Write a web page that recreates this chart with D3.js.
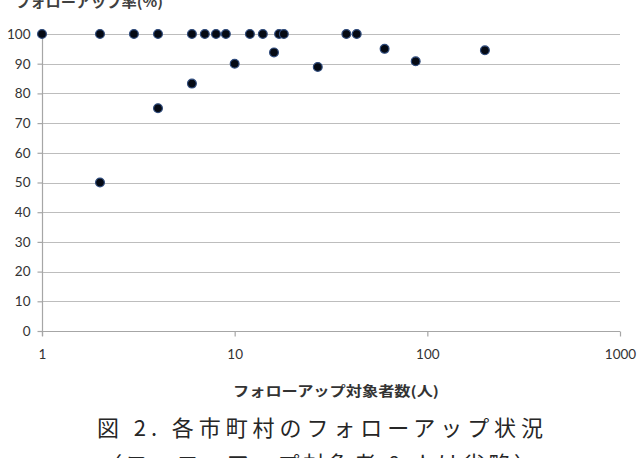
<!DOCTYPE html>
<html><head><meta charset="utf-8">
<script src="https://cdn.jsdelivr.net/npm/d3@7"></script>
<style>
html,body{margin:0;padding:0;background:#fff;}
svg{display:block;}
</style></head>
<body>
<script>
// Data: follow-up target counts (people) and follow-up rates (%)
const targetCounts = [1, 2, 2, 3, 4, 4, 6, 6, 7, 8, 9, 10, 12, 14, 16, 17, 18, 27, 38, 43, 60, 87, 199];
const followRates  = [100, 100, 50, 100, 100, 75, 100, 83.3, 100, 100, 100, 90, 100, 100, 93.8, 100, 100, 88.9, 100, 100, 95, 90.8, 94.5];
const xTicks = [1, 10, 100, 1000];
const yTicks = [0, 10, 20, 30, 40, 50, 60, 70, 80, 90, 100];
const yTitle = "フォローアップ率(%)";
const xTitle = "フォローアップ対象者数(人)";
const caption1 = "図 2.  各市町村のフォローアップ状況";
const caption2 = "（フォローアップ対象者 0 人は省略）";

const W = 639, H = 458;
const mLeft = 42, mRight = 620, mTop = 34, mBottom = 331;
const svg = d3.select("body").append("svg").attr("width", W).attr("height", H);

const x = d3.scaleLog().domain([1, 1000]).range([mLeft, mRight]);
const y = d3.scaleLinear().domain([0, 100]).range([mBottom, mTop]);

const numFont = "Lato, 'Open Sans', sans-serif";
const jpFont = "'Noto Sans CJK JP', sans-serif";

// gridlines
svg.append("g").selectAll("line").data(yTicks.filter(d => d > 0)).join("line")
  .attr("x1", mLeft).attr("x2", mRight)
  .attr("y1", d => Math.round(y(d)) + 0.5).attr("y2", d => Math.round(y(d)) + 0.5)
  .attr("stroke", "#bdbdbd").attr("stroke-width", 1.2);

// y axis
const yAxis = svg.append("g").attr("transform", `translate(${mLeft + 0.5},0)`)
  .call(d3.axisLeft(y).tickValues(yTicks).tickSize(5).tickPadding(7).tickFormat(d3.format("d")));
yAxis.select(".domain").attr("stroke", "#a6a6a6").attr("stroke-width", 1.2)
  .attr("d", `M0,${mTop}V${mBottom + 5}`);
yAxis.selectAll(".tick line").attr("stroke", "#a6a6a6").attr("stroke-width", 1.2);
yAxis.selectAll(".tick text").attr("font-family", numFont).attr("font-size", 13.5).attr("fill", "#333");

// x axis
const xAxis = svg.append("g").attr("transform", `translate(0,${Math.round(mBottom) + 0.5})`)
  .call(d3.axisBottom(x).tickValues(xTicks).tickSize(5).tickPadding(13).tickFormat(d3.format("d")));
xAxis.select(".domain").attr("stroke", "#a6a6a6").attr("stroke-width", 1.2)
  .attr("d", `M${mLeft},0H${mRight}`);
xAxis.selectAll(".tick line").attr("stroke", "#a6a6a6").attr("stroke-width", 1.2);
xAxis.selectAll(".tick text").attr("font-family", numFont).attr("font-size", 13.5).attr("fill", "#333");

// points
svg.append("g").selectAll("circle").data(targetCounts.map((c, i) => [c, followRates[i]])).join("circle")
  .attr("cx", d => x(d[0])).attr("cy", d => y(d[1])).attr("r", 4.4)
  .attr("fill", "#050a14").attr("stroke", "#2f4b7c").attr("stroke-width", 1.2);

// titles
svg.append("text").attr("x", 15).attr("y", 7).text(yTitle)
  .attr("font-family", jpFont).attr("font-size", 14).attr("font-weight", "bold").attr("fill", "#404040")
  .attr("textLength", 148).attr("lengthAdjust", "spacingAndGlyphs");
svg.append("text").attr("x", 233).attr("y", 396).text(xTitle)
  .attr("font-family", jpFont).attr("font-size", 13.5).attr("font-weight", "bold").attr("fill", "#333")
  .attr("textLength", 206).attr("lengthAdjust", "spacingAndGlyphs");

// caption
svg.append("text").attr("x", 97).attr("y", 436).text(caption1)
  .attr("font-family", jpFont).attr("font-size", 22).attr("fill", "#262626").attr("font-weight", 400)
  .attr("textLength", 446).attr("lengthAdjust", "spacing");
svg.append("text").attr("x", 100).attr("y", 472).text(caption2)
  .attr("font-family", jpFont).attr("font-size", 22).attr("fill", "#262626").attr("font-weight", 400)
  .attr("textLength", 436).attr("lengthAdjust", "spacing");
</script>
</body></html>
